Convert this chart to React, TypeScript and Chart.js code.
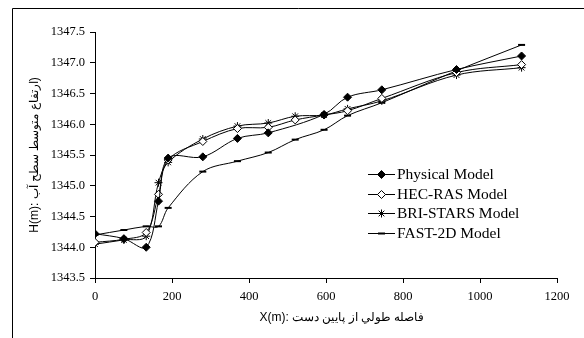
import React, { useEffect, useRef } from "react";
import { Chart, registerables } from "chart.js";

Chart.register(...registerables);

const seriesNames = ["Physical Model", "HEC-RAS Model", "BRI-STARS Model", "FAST-2D Model"];

const xPhysical = [0, 75, 133, 165, 190, 280, 370, 450, 595, 656, 745, 939, 1108];
const hPhysical = [1344.22, 1344.14, 1344.0, 1344.75, 1345.45, 1345.47, 1345.77, 1345.86, 1346.16, 1346.44, 1346.56, 1346.89, 1347.11];

const xHecRas = [0, 75, 133, 165, 190, 280, 370, 450, 520, 595, 656, 745, 939, 1108];
const hHecRas = [1344.08, 1344.13, 1344.24, 1344.86, 1345.42, 1345.72, 1345.93, 1345.95, 1346.07, 1346.15, 1346.22, 1346.42, 1346.84, 1346.97];

const xBriStars = [0, 75, 133, 165, 190, 280, 370, 450, 520, 595, 656, 745, 939, 1108];
const hBriStars = [1344.05, 1344.12, 1344.18, 1345.05, 1345.38, 1345.76, 1345.97, 1346.02, 1346.13, 1346.15, 1346.25, 1346.38, 1346.8, 1346.92];

const xFast2D = [0, 75, 133, 165, 190, 280, 370, 450, 520, 595, 656, 745, 939, 1108];
const hFast2D = [1344.2, 1344.28, 1344.34, 1344.34, 1344.64, 1345.23, 1345.4, 1345.54, 1345.75, 1345.91, 1346.14, 1346.35, 1346.87, 1347.29];

const xTitle = "X(m): فاصله طولي از پايين دست";
const yTitle = "H(m): ارتفاع متوسط سطح آب)";

const toPoints = (xs: number[], ys: number[]) => xs.map((x, i) => ({ x, y: ys[i] }));

function drawMarker(ctx: CanvasRenderingContext2D, kind: number, x: number, y: number) {
  ctx.save();
  ctx.strokeStyle = "#000";
  ctx.fillStyle = "#000";
  ctx.lineWidth = 1;
  const r = 4;
  if (kind === 0 || kind === 1) {
    ctx.beginPath();
    ctx.moveTo(x, y - r);
    ctx.lineTo(x + r, y);
    ctx.lineTo(x, y + r);
    ctx.lineTo(x - r, y);
    ctx.closePath();
    ctx.fillStyle = kind === 0 ? "#000" : "#fff";
    ctx.fill();
    ctx.stroke();
  } else if (kind === 2) {
    ctx.beginPath();
    ctx.moveTo(x - r, y);
    ctx.lineTo(x + r, y);
    ctx.moveTo(x, y - r);
    ctx.lineTo(x, y + r);
    const d = r * 0.7071;
    ctx.moveTo(x - d, y - d);
    ctx.lineTo(x + d, y + d);
    ctx.moveTo(x - d, y + d);
    ctx.lineTo(x + d, y - d);
    ctx.stroke();
  } else {
    ctx.lineWidth = 2;
    ctx.beginPath();
    ctx.moveTo(x - 3.5, y);
    ctx.lineTo(x + 3.5, y);
    ctx.stroke();
  }
  ctx.restore();
}

const decorPlugin = {
  id: "decor",
  afterDraw(chart: any) {
    const ctx: CanvasRenderingContext2D = chart.ctx;
    const area = chart.chartArea;
    ctx.save();
    ctx.strokeStyle = "#000";
    ctx.lineWidth = 1;
    ctx.beginPath();
    ctx.moveTo(12.5, 338);
    ctx.lineTo(12.5, 8.5);
    ctx.lineTo(584, 8.5);
    ctx.stroke();

    const lx0 = 368;
    const lx1 = 395;
    const ly0 = 174;
    const dy = 19.5;
    ctx.font = '15.5px "Liberation Serif", "Times New Roman", serif';
    ctx.textBaseline = "middle";
    ctx.textAlign = "left";
    seriesNames.forEach((name, i) => {
      const y = ly0 + i * dy;
      ctx.strokeStyle = "#000";
      ctx.lineWidth = 1;
      ctx.beginPath();
      ctx.moveTo(lx0, Math.round(y) + 0.5);
      ctx.lineTo(lx1, Math.round(y) + 0.5);
      ctx.stroke();
      drawMarker(ctx, i, (lx0 + lx1) / 2, Math.round(y) + 0.5);
      ctx.fillStyle = "#000";
      ctx.fillText(name, 397, y + 1);
    });

    ctx.fillStyle = "#000";
    ctx.font = '12px "Liberation Sans", Arial, sans-serif';
    ctx.textAlign = "center";
    ctx.textBaseline = "middle";
    ctx.fillText(xTitle, 342, 318);

    ctx.translate(35, (area.top + area.bottom) / 2);
    ctx.rotate(-Math.PI / 2);
    ctx.fillText(yTitle, 0, 0);
    ctx.restore();
  },
};

export default function App() {
  const ref = useRef<HTMLCanvasElement | null>(null);
  useEffect(() => {
    if (!ref.current) return;
    const common = {
      borderColor: "#000",
      borderWidth: 1,
      tension: 0.35,
      showLine: true,
      pointBorderColor: "#000",
      pointBorderWidth: 1,
    };
    const chart = new Chart(ref.current, {
      type: "scatter",
      data: {
        datasets: [
          {
            ...common,
            label: seriesNames[0],
            data: toPoints(xPhysical, hPhysical),
            pointStyle: "rectRot",
            pointRadius: 4,
            pointBackgroundColor: "#000",
          },
          {
            ...common,
            label: seriesNames[1],
            data: toPoints(xHecRas, hHecRas),
            pointStyle: "rectRot",
            pointRadius: 4,
            pointBackgroundColor: "#fff",
          },
          {
            ...common,
            label: seriesNames[2],
            data: toPoints(xBriStars, hBriStars),
            pointStyle: "star",
            pointRadius: 4,
            pointBackgroundColor: "#000",
          },
          {
            ...common,
            label: seriesNames[3],
            data: toPoints(xFast2D, hFast2D),
            pointStyle: "line",
            pointRadius: 3.5,
            pointBorderWidth: 2,
            pointBackgroundColor: "#000",
          },
        ],
      },
      options: {
        animation: false,
        responsive: false,
        devicePixelRatio: 1,
        layout: { padding: { left: 0, top: 32, right: 27, bottom: 0 } },
        plugins: {
          legend: { display: false },
          tooltip: { enabled: false },
        },
        scales: {
          x: {
            type: "linear",
            min: 0,
            max: 1200,
            ticks: {
              stepSize: 200,
              color: "#000",
              padding: 6,
              maxRotation: 0,
              callback: (v: any) => String(v),
              font: { family: '"Liberation Serif", "Times New Roman", serif', size: 12.5 },
            },
            grid: { drawOnChartArea: false, color: "#000", tickLength: 5 },
            border: { color: "#000", width: 1 },
            afterFit: (s: any) => {
              s.height = 60;
            },
          },
          y: {
            type: "linear",
            min: 1343.5,
            max: 1347.5,
            ticks: {
              stepSize: 0.5,
              color: "#000",
              padding: 5,
              callback: (v: any) => Number(v).toFixed(1),
              font: { family: '"Liberation Serif", "Times New Roman", serif', size: 12.5 },
            },
            grid: { drawOnChartArea: false, color: "#000", tickLength: 5 },
            border: { color: "#000", width: 1 },
            afterFit: (s: any) => {
              s.width = 95;
            },
          },
        },
      },
      plugins: [decorPlugin],
    } as any);
    return () => chart.destroy();
  }, []);
  return (
    <div style={{ position: "fixed", left: 0, top: 0, width: 584, height: 338, background: "#fff" }}>
      <canvas ref={ref} width={584} height={338} style={{ display: "block" }} />
    </div>
  );
}
